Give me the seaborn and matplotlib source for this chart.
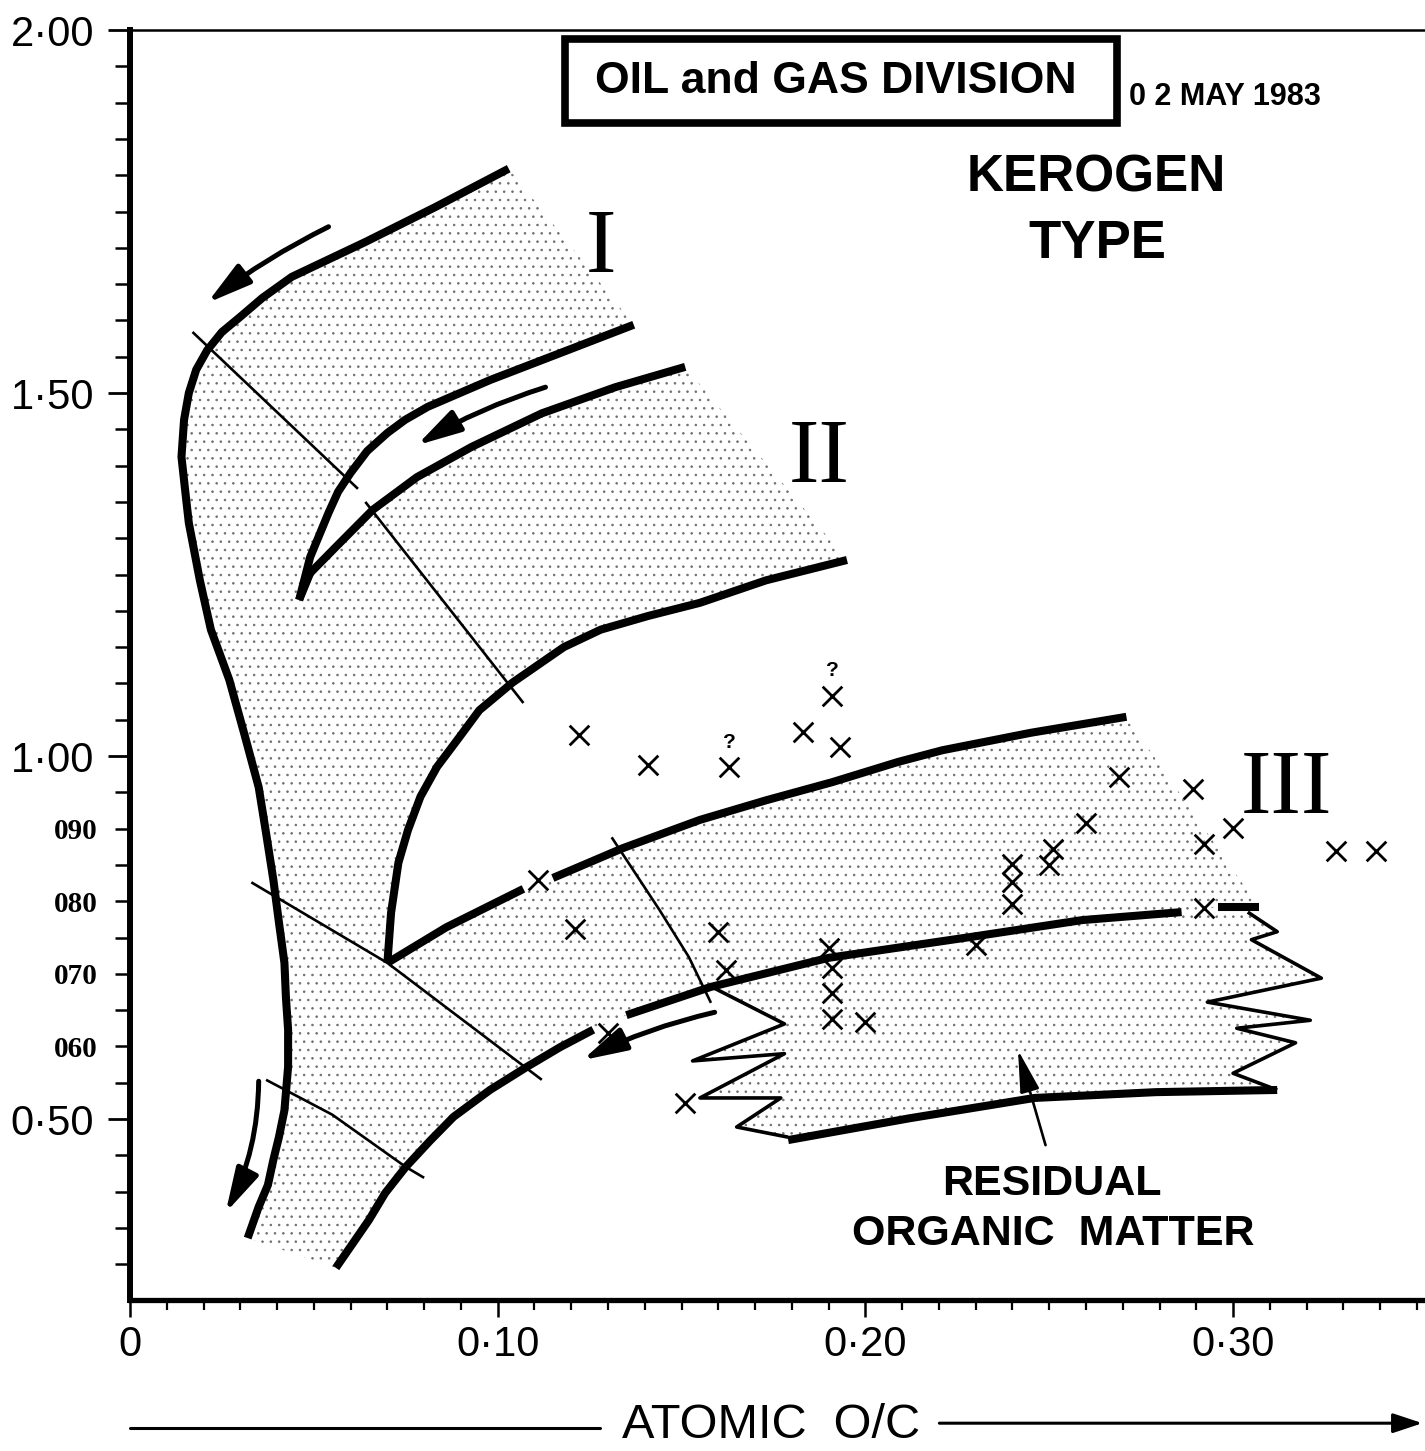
import numpy as np
import pandas as pd
import matplotlib
matplotlib.use("Agg")
import matplotlib.pyplot as plt
import seaborn as sns
from matplotlib.ticker import FixedLocator, FixedFormatter
from matplotlib.patches import Rectangle

# ---------------- data (atomic O/C , atomic H/C) ----------------
# Type I evolution path (outer boundary)
typeI_oc = [0.103, 0.083, 0.064, 0.044, 0.036, 0.030, 0.025, 0.021, 0.018, 0.016, 0.0147,
            0.014, 0.015, 0.016, 0.019, 0.022, 0.027, 0.031, 0.035, 0.037, 0.039, 0.0405,
            0.042, 0.0424, 0.043, 0.043, 0.042, 0.0405, 0.039, 0.0375, 0.035, 0.032]
typeI_hc = [1.809, 1.756, 1.708, 1.660, 1.631, 1.605, 1.584, 1.559, 1.532, 1.500, 1.463,
            1.412, 1.366, 1.321, 1.242, 1.174, 1.105, 1.032, 0.957, 0.894, 0.829, 0.771,
            0.715, 0.668, 0.623, 0.572, 0.512, 0.475, 0.444, 0.409, 0.379, 0.336]
# lower limit of type I (hook, upper branch)
typeI_low_oc = [0.137, 0.117, 0.098, 0.081, 0.0748, 0.070, 0.0645, 0.060, 0.0566, 0.054, 0.049, 0.046]
typeI_low_hc = [1.594, 1.555, 1.518, 1.481, 1.463, 1.445, 1.420, 1.390, 1.364, 1.335, 1.274, 1.215]
# upper limit of type II (hook, lower branch)
typeII_up_oc = [0.151, 0.132, 0.112, 0.093, 0.078, 0.066, 0.056, 0.049, 0.046]
typeII_up_hc = [1.536, 1.508, 1.472, 1.426, 1.384, 1.339, 1.288, 1.252, 1.215]
# lower limit of type II
typeII_low_oc = [0.195, 0.173, 0.155, 0.141, 0.128, 0.118, 0.104, 0.095, 0.089, 0.0835,
                 0.079, 0.0756, 0.073, 0.071, 0.070]
typeII_low_hc = [1.270, 1.242, 1.211, 1.193, 1.174, 1.150, 1.101, 1.063, 1.022, 0.985,
                 0.944, 0.898, 0.853, 0.784, 0.715]
# upper limit of type III (two pieces)
typeIII_up1_oc = [0.070, 0.086, 0.107]
typeIII_up1_hc = [0.715, 0.764, 0.817]
typeIII_up2_oc = [0.115, 0.134, 0.155, 0.173, 0.191, 0.209, 0.221, 0.245, 0.271]
typeIII_up2_hc = [0.832, 0.873, 0.912, 0.939, 0.964, 0.992, 1.008, 1.032, 1.054]
# lower limit of type III (three pieces)
typeIII_low1_oc = [0.056, 0.065, 0.0694, 0.075, 0.0816, 0.088, 0.0979, 0.108, 0.117, 0.126]
typeIII_low1_hc = [0.295, 0.361, 0.398, 0.434, 0.470, 0.503, 0.540, 0.572, 0.599, 0.623]
typeIII_low2_oc = [0.135, 0.158, 0.190, 0.229, 0.259, 0.286]
typeIII_low2_hc = [0.643, 0.682, 0.722, 0.751, 0.774, 0.785]
typeIII_low3_oc = [0.296, 0.307]
typeIII_low3_hc = [0.792, 0.792]
# residual organic matter field
resid_base_oc = [0.179, 0.212, 0.246, 0.279, 0.312]
resid_base_hc = [0.471, 0.501, 0.529, 0.537, 0.540]
resid_left_oc = [0.159, 0.178, 0.153, 0.178, 0.155, 0.177, 0.165, 0.179]
resid_left_hc = [0.680, 0.631, 0.580, 0.590, 0.529, 0.529, 0.489, 0.475]
resid_right_oc = [0.312, 0.300, 0.317, 0.301, 0.321, 0.293, 0.324, 0.305, 0.312, 0.304]
resid_right_hc = [0.540, 0.563, 0.605, 0.625, 0.636, 0.661, 0.694, 0.747, 0.758, 0.785]
# thin cross lines (maturity stages)
iso1a_oc, iso1a_hc = [0.017, 0.062], [1.584, 1.368]
iso1b_oc, iso1b_hc = [0.064, 0.107], [1.350, 1.073]
iso2_oc, iso2_hc = [0.033, 0.070, 0.112], [0.826, 0.715, 0.554]
iso3_oc, iso3_hc = [0.037, 0.055, 0.075, 0.080], [0.554, 0.506, 0.434, 0.419]
iso4_oc, iso4_hc = [0.131, 0.144, 0.152, 0.158], [0.888, 0.788, 0.723, 0.660]
# evolution arrows: tail (O/C, H/C) -> head (O/C, H/C)
arrow_tail_oc = [0.054, 0.113, 0.035, 0.159]
arrow_tail_hc = [1.729, 1.508, 0.552, 0.647]
arrow_head_oc = [0.021, 0.078, 0.026, 0.123]
arrow_head_hc = [1.624, 1.428, 0.371, 0.581]
# pointer to the residual organic matter field
pointer_oc = [0.249, 0.2415]
pointer_hc = [0.464, 0.595]
# samples
sample_oc = [0.122, 0.141, 0.163, 0.183, 0.191, 0.193, 0.111, 0.121, 0.160, 0.162, 0.190,
             0.191, 0.191, 0.191, 0.200, 0.130, 0.151, 0.230, 0.240, 0.240, 0.240, 0.250,
             0.251, 0.260, 0.269, 0.289, 0.300, 0.292, 0.292, 0.328, 0.339]
sample_hc = [1.029, 0.988, 0.985, 1.033, 1.083, 1.012, 0.829, 0.762, 0.758, 0.705, 0.736,
             0.708, 0.674, 0.638, 0.634, 0.618, 0.522, 0.740, 0.851, 0.826, 0.796, 0.850,
             0.872, 0.908, 0.971, 0.955, 0.901, 0.879, 0.791, 0.869, 0.869]
sample_doubtful = [False, False, True, False, True] + [False] * 26

# axis ticks
x_major = [0.0, 0.10, 0.20, 0.30]
x_major_labels = ["0", "0·10", "0·20", "0·30"]
x_minor = [round(0.01 * i, 2) for i in range(1, 36) if i % 10 != 0]
y_major = [0.50, 1.00, 1.50, 2.00]
y_major_labels = ["0·50", "1·00", "1·50", "2·00"]
y_minor = [round(0.05 * i, 2) for i in range(6, 40) if i % 10 != 0]
y_minor_named = {0.6: "060", 0.7: "070", 0.8: "080", 0.9: "090"}
y_minor_labels = [y_minor_named.get(v, "") for v in y_minor]

# ---------------- figure ----------------
sns.set_theme(style="white")
SANS = ["Liberation Sans", "DejaVu Sans"]
SERIF = ["Liberation Serif", "DejaVu Serif"]
plt.rcParams["font.family"] = SANS
plt.rcParams["hatch.linewidth"] = 0.6
plt.rcParams["text.color"] = "black"
plt.rcParams["axes.labelcolor"] = "black"
plt.rcParams["xtick.color"] = "black"
plt.rcParams["ytick.color"] = "black"
plt.rcParams["axes.edgecolor"] = "black"

fig = plt.figure(figsize=(14.25, 14.51), dpi=100)
ax = fig.add_axes([130 / 1425, 151 / 1451, 1295 / 1425, 1270 / 1451])
ax.set_xlim(0, 0.3522)
ax.set_ylim(0.2507, 2.0)

# stippled fields
main_oc = (typeI_oc + typeIII_low1_oc + typeIII_low2_oc + typeIII_low3_oc
           + typeIII_up2_oc[::-1] + typeIII_up1_oc[::-1] + typeII_low_oc[::-1]
           + typeII_up_oc + typeI_low_oc[::-1])
main_hc = (typeI_hc + typeIII_low1_hc + typeIII_low2_hc + typeIII_low3_hc
           + typeIII_up2_hc[::-1] + typeIII_up1_hc[::-1] + typeII_low_hc[::-1]
           + typeII_up_hc + typeI_low_hc[::-1])
STIPPLE = "#6e6e6e"
ax.fill(main_oc, main_hc, facecolor="none", edgecolor=STIPPLE, hatch="..", lw=0, zorder=1)
low2 = [(o, h) for o, h in zip(typeIII_low2_oc, typeIII_low2_hc) if o > resid_left_oc[0]]
res_oc = resid_left_oc + resid_base_oc + resid_right_oc + [p[0] for p in low2[::-1]]
res_hc = resid_left_hc + resid_base_hc + resid_right_hc + [p[1] for p in low2[::-1]]
ax.fill(res_oc, res_hc, facecolor="none", edgecolor=STIPPLE, hatch="..", lw=0, zorder=1)


def curve(oc, hc, lw):
    sns.lineplot(x=oc, y=hc, sort=False, estimator=None, color="black", linewidth=lw,
                 ax=ax, legend=False, solid_capstyle="butt", solid_joinstyle="round", zorder=4)


for oc, hc in [(typeI_oc, typeI_hc), (typeI_low_oc, typeI_low_hc), (typeII_up_oc, typeII_up_hc),
               (typeII_low_oc, typeII_low_hc), (typeIII_up1_oc, typeIII_up1_hc),
               (typeIII_up2_oc, typeIII_up2_hc), (typeIII_low1_oc, typeIII_low1_hc),
               (typeIII_low2_oc, typeIII_low2_hc), (typeIII_low3_oc, typeIII_low3_hc),
               (resid_base_oc, resid_base_hc)]:
    curve(oc, hc, 5.8)
for oc, hc in [(resid_left_oc, resid_left_hc), (resid_right_oc, resid_right_hc)]:
    curve(oc, hc, 2.6)
for oc, hc in [(iso1a_oc, iso1a_hc), (iso1b_oc, iso1b_hc), (iso2_oc, iso2_hc),
               (iso3_oc, iso3_hc), (iso4_oc, iso4_hc)]:
    curve(oc, hc, 1.9)

arrow_rad = [0.05, 0.06, -0.12, 0.06]
for x0, y0, x1, y1, rad in zip(arrow_tail_oc, arrow_tail_hc, arrow_head_oc, arrow_head_hc, arrow_rad):
    ax.annotate("", xy=(x1, y1), xytext=(x0, y0),
                arrowprops=dict(arrowstyle="-|>,head_length=1.35,head_width=0.36", lw=3.6,
                                color="black", shrinkA=0, shrinkB=0, mutation_scale=20,
                                connectionstyle=f"arc3,rad={rad}"), zorder=5)
ax.annotate("", xy=(pointer_oc[1], pointer_hc[1]), xytext=(pointer_oc[0], pointer_hc[0]),
            arrowprops=dict(arrowstyle="-|>,head_length=1.3,head_width=0.3", lw=1.9,
                            color="black", shrinkA=0, shrinkB=0, mutation_scale=20), zorder=5)

# samples
samples = pd.DataFrame({"O/C": sample_oc, "H/C": sample_hc, "doubtful": sample_doubtful})
sns.scatterplot(data=samples, x="O/C", y="H/C", marker="x", s=200, color="black",
                linewidth=2.0, ax=ax, zorder=6, legend=False)
for _, r in samples[samples["doubtful"]].iterrows():
    ax.annotate("?", xy=(r["O/C"], r["H/C"]), xytext=(0, 11), textcoords="offset points",
                ha="center", va="bottom", fontsize=15, fontweight="bold", family=SANS,
                color="black")

# labels in the field
ax.text(0.1281, 1.667, "I", family=SERIF, fontsize=66, ha="center", va="baseline", color="black")
ax.text(0.1874, 1.377, "II", family=SERIF, fontsize=66, ha="center", va="baseline", color="black")
ax.text(0.3144, 0.9215, "III", family=SERIF, fontsize=66, ha="center", va="baseline", color="black")
ax.text(0.2627, 1.777, "KEROGEN", family=SANS, fontweight="bold", fontsize=37,
        ha="center", va="baseline", color="black")
ax.text(0.2630, 1.686, "TYPE", family=SANS, fontweight="bold", fontsize=38,
        ha="center", va="baseline", color="black")
ax.text(0.2507, 0.395, "RESIDUAL", family=SANS, fontweight="bold", fontsize=31,
        ha="center", va="baseline", color="black")
ax.text(0.2510, 0.326, "ORGANIC  MATTER", family=SANS, fontweight="bold", fontsize=31,
        ha="center", va="baseline", color="black")

# stamp
ax.add_patch(Rectangle((0.336, 0.927), 0.426, 0.066, transform=ax.transAxes, fill=False,
                       lw=5.5, edgecolor="black", clip_on=False, zorder=7))
ax.text(0.545, 0.9504, "OIL and GAS DIVISION", transform=ax.transAxes, family=SANS,
        fontweight="bold", fontsize=32, ha="center", va="baseline", color="black")
ax.text(0.8456, 0.941, "0 2 MAY 1983", transform=ax.transAxes, family=SANS,
        fontweight="bold", fontsize=22, ha="center", va="baseline", color="black")

# axis title with arrow
ax.plot([0.0, 0.363], [-0.1008, -0.1008], transform=ax.transAxes, clip_on=False,
        color="black", lw=2.2)
ax.annotate("", xy=(0.998, -0.097), xytext=(0.625, -0.097), xycoords="axes fraction",
            arrowprops=dict(arrowstyle="-|>,head_length=0.9,head_width=0.3", lw=2.2,
                            color="black", shrinkA=0, shrinkB=0, mutation_scale=20))
ax.text(0.495, -0.1087, "ATOMIC  O/C", transform=ax.transAxes, family=SANS, fontsize=35,
        ha="center", va="baseline", color="black")

# axes styling
ax.set_xlabel("")
ax.set_ylabel("")
ax.spines["right"].set_visible(False)
ax.spines["left"].set_linewidth(4.3)
ax.spines["bottom"].set_linewidth(3.8)
ax.spines["top"].set_linewidth(1.8)
for s in ax.spines.values():
    s.set_color("black")

ax.set_xticks(x_major, labels=x_major_labels)
ax.xaxis.set_minor_locator(FixedLocator(x_minor))
ax.set_yticks(y_major, labels=y_major_labels)
ax.yaxis.set_minor_locator(FixedLocator(y_minor))
ax.yaxis.set_minor_formatter(FixedFormatter(y_minor_labels))
ax.tick_params(axis="x", which="major", direction="out", length=12, width=1.8, pad=6,
               labelsize=30, colors="black", bottom=True)
ax.tick_params(axis="x", which="minor", direction="out", length=7, width=1.6, bottom=True,
               colors="black")
ax.tick_params(axis="y", which="major", direction="out", length=16, width=2.0, pad=10,
               labelsize=30, colors="black", left=True)
ax.tick_params(axis="y", which="minor", direction="out", length=11, width=1.8, pad=12,
               labelsize=21, left=True, colors="black")
fig.canvas.draw()
for lbl in ax.get_xticklabels() + ax.get_yticklabels():
    lbl.set_fontfamily(SANS)
    lbl.set_color("black")
for lbl in ax.get_yticklabels(minor=True):
    lbl.set_fontfamily(SERIF)
    lbl.set_fontweight("bold")
    lbl.set_fontsize(21)
    lbl.set_color("black")

fig.savefig("out.png", dpi=100, facecolor="white")
